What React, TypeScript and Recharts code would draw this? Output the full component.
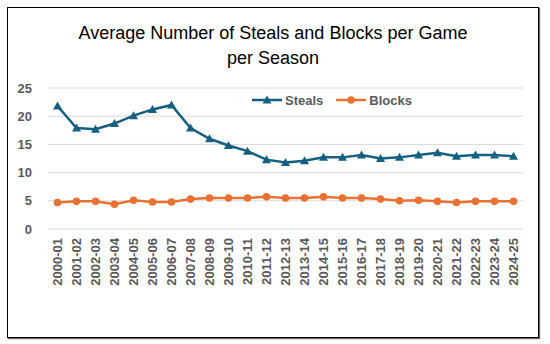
import React from 'react';
import { LineChart, Line, XAxis, YAxis, CartesianGrid } from 'recharts';

const seasons = [
  '2000-01', '2001-02', '2002-03', '2003-04', '2004-05', '2005-06', '2006-07',
  '2007-08', '2008-09', '2009-10', '2010-11', '2011-12', '2012-13', '2013-14',
  '2014-15', '2015-16', '2016-17', '2017-18', '2018-19', '2019-20', '2020-21',
  '2021-22', '2022-23', '2023-24', '2024-25',
];

const steals = [
  21.8, 17.9, 17.7, 18.7, 20.1, 21.2, 22.0, 17.9, 16.0, 14.8, 13.8, 12.3, 11.8,
  12.1, 12.7, 12.7, 13.1, 12.5, 12.7, 13.1, 13.5, 12.9, 13.1, 13.1, 12.9,
];

const blocks = [
  4.7, 4.9, 4.9, 4.4, 5.1, 4.8, 4.8, 5.3, 5.5, 5.5, 5.5, 5.7, 5.5,
  5.5, 5.7, 5.5, 5.5, 5.3, 5.0, 5.1, 4.9, 4.7, 4.9, 4.9, 4.9,
];

const yTicks = [0, 5, 10, 15, 20, 25];

const STEALS_COLOR = '#156082';
const BLOCKS_COLOR = '#E97132';
const TEXT_COLOR = '#595959';

const data = seasons.map((season, i) => ({
  season,
  steals: steals[i],
  blocks: blocks[i],
}));

const TriangleDot = (props: any) => {
  const { cx, cy } = props;
  if (cx == null || cy == null) return null;
  return (
    <path
      d={`M${cx},${cy - 4.5} L${cx + 4.5},${cy + 3.5} L${cx - 4.5},${cy + 3.5} Z`}
      fill={STEALS_COLOR}
    />
  );
};

const CircleDot = (props: any) => {
  const { cx, cy } = props;
  if (cx == null || cy == null) return null;
  return <circle cx={cx} cy={cy} r={3.8} fill={BLOCKS_COLOR} />;
};

const SeasonTick = (props: any) => {
  const { x, payload } = props;
  return (
    <text
      transform={`translate(${x},230) rotate(-90)`}
      textAnchor="end"
      dy="0.36em"
      fontSize={13}
      fontWeight="bold"
      fill={TEXT_COLOR}
      fontFamily="Liberation Sans, Arial, sans-serif"
    >
      {payload.value}
    </text>
  );
};

const LegendItem = ({ color, label, marker }: { color: string; label: string; marker: 'triangle' | 'circle' }) => (
  <div style={{ display: 'flex', alignItems: 'center', marginRight: 13 }}>
    <svg width={30} height={10}>
      <line x1={0} y1={5} x2={30} y2={5} stroke={color} strokeWidth={2.5} />
      {marker === 'triangle' ? (
        <path d="M15,0.5 L19.5,8.5 L10.5,8.5 Z" fill={color} />
      ) : (
        <circle cx={15} cy={5} r={3.8} fill={color} />
      )}
    </svg>
    <span style={{ marginLeft: 3, fontSize: 13, fontWeight: 'bold', color: TEXT_COLOR }}>{label}</span>
  </div>
);

export default function App() {
  return (
    <div
      style={{
        position: 'absolute',
        left: 7,
        top: 7,
        width: 532,
        height: 331,
        boxSizing: 'border-box',
        border: '1px solid #000',
        boxShadow: '1px 1px 1px rgba(0,0,0,0.6)',
        background: '#fff',
        fontFamily: 'Liberation Sans, Arial, sans-serif',
      }}
    >
      <div
        style={{
          position: 'absolute',
          top: 13,
          left: 0,
          width: 530,
          textAlign: 'center',
          fontSize: 18,
          lineHeight: '25px',
          color: '#000',
        }}
      >
        Average Number of Steals and Blocks per Game
        <br />
        per Season
      </div>
      <div
        style={{
          position: 'absolute',
          top: 84,
          left: 244,
          display: 'flex',
          alignItems: 'center',
          height: 16,
        }}
      >
        <LegendItem color={STEALS_COLOR} label="Steals" marker="triangle" />
        <LegendItem color={BLOCKS_COLOR} label="Blocks" marker="circle" />
      </div>
      <LineChart
        width={529}
        height={329}
        data={data}
        margin={{ top: 80, right: 14, bottom: 48, left: 0 }}
      >
        <CartesianGrid vertical={false} stroke="#D9D9D9" strokeWidth={1} />
        <XAxis
          dataKey="season"
          interval={0}
          axisLine={false}
          tickLine={false}
          tickSize={0}
          height={60}
          padding={{ left: 9.5, right: 9.5 }}
          tick={<SeasonTick />}
        />
        <YAxis
          domain={[0, 25]}
          ticks={yTicks}
          width={40}
          axisLine={false}
          tickLine={false}
          tickSize={0}
          tickMargin={16}
          tick={{ fontSize: 13, fontWeight: 'bold', fill: TEXT_COLOR }}
        />
        <Line
          type="linear"
          dataKey="steals"
          stroke={STEALS_COLOR}
          strokeWidth={2.5}
          dot={<TriangleDot />}
          activeDot={false}
          isAnimationActive={false}
        />
        <Line
          type="linear"
          dataKey="blocks"
          stroke={BLOCKS_COLOR}
          strokeWidth={2.5}
          dot={<CircleDot />}
          activeDot={false}
          isAnimationActive={false}
        />
      </LineChart>
    </div>
  );
}
